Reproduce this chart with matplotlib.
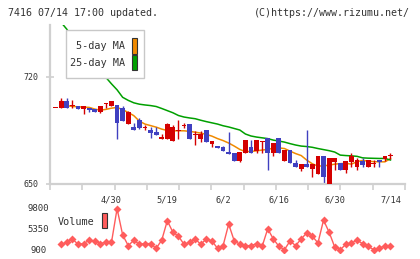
import numpy as np
import matplotlib
matplotlib.use("Agg")
import matplotlib.pyplot as plt
from matplotlib.patches import Rectangle

# daily candles (index 0 is the flat bar at the far left)
opens = [699.5, 699.5, 704.3, 701.0, 701.0, 699.3, 699.5, 699.1, 697.3, 702.6,
         701.2, 701.7, 699.9, 689.5, 687.5, 691.9, 686.6, 685.3, 684.2, 679.6,
         679.6, 678.3, 684.7, 687.8, 689.3, 681.8, 679.4, 685.3, 676.2, 674.9,
         674.4, 671.1, 670.5, 665.2, 670.5, 674.0, 671.8, 677.5, 680.1, 670.1,
         680.1, 665.2, 672.2, 664.0, 659.6, 663.1, 659.6, 656.6, 668.3, 649.3,
         664.6, 663.5, 659.2, 664.6, 660.9, 665.0, 661.3, 663.3, 665.7, 666.1,
         668.1]
closes = [699.5, 704.3, 699.5, 701.3, 699.3, 701.0, 698.4, 697.3, 701.0, 702.8,
          704.3, 689.7, 691.4, 697.3, 685.5, 686.8, 687.0, 683.6, 682.3, 680.8,
          689.5, 687.3, 685.1, 688.2, 679.4, 682.2, 682.7, 677.7, 678.1, 673.4,
          671.8, 669.6, 665.2, 670.9, 678.8, 670.5, 678.8, 677.8, 670.1, 676.6,
          670.1, 672.2, 663.5, 661.3, 663.1, 661.3, 663.1, 668.3, 654.8, 666.8,
          666.8, 659.2, 665.0, 668.3, 665.7, 662.4, 665.7, 663.7, 664.6, 668.3,
          668.5]
highs = [699.5, 706.3, 706.3, 705.0, 701.0, 701.0, 699.5, 699.1, 701.0, 702.8,
         704.3, 702.0, 701.0, 697.8, 689.7, 693.0, 688.6, 687.5, 687.5, 682.5,
         690.1, 688.6, 691.9, 690.1, 689.3, 684.9, 684.9, 685.3, 678.1, 674.9,
         674.9, 684.2, 670.5, 670.9, 678.8, 678.8, 678.8, 677.8, 680.1, 676.6,
         680.1, 672.2, 672.2, 665.7, 663.1, 685.3, 663.1, 668.3, 668.3, 666.8,
         666.8, 663.5, 665.0, 670.1, 666.8, 666.8, 665.7, 665.7, 665.7, 668.3,
         670.5]
lows = [699.5, 699.5, 699.5, 699.5, 698.9, 695.6, 696.9, 697.3, 696.6, 699.5,
        701.2, 679.4, 691.4, 689.5, 685.5, 685.8, 685.3, 680.3, 682.0, 679.6,
        679.6, 678.3, 679.4, 686.4, 679.4, 675.5, 677.3, 677.7, 674.2, 673.4,
        671.8, 669.6, 665.2, 664.6, 670.5, 670.1, 670.1, 670.5, 659.2, 668.3,
        670.1, 665.2, 663.5, 660.9, 658.7, 661.3, 654.8, 656.6, 649.3, 649.3,
        659.2, 659.2, 657.4, 661.3, 659.2, 661.3, 661.3, 660.9, 661.3, 665.0,
        666.1]

nan = np.nan
ma5 = [nan, 704.2, 701.3, 700.7, 700.5, 700.3, 700.1, 699.0, 698.3, 698.8,
       699.6, 700.1, 698.6, 696.8, 694.7, 691.1, 689.2, 688.2, 687.2, 685.9,
       685.0, 684.8, 684.8, 684.8, 684.4, 683.9, 683.3, 682.4, 681.3, 679.7,
       678.4, 676.8, 674.8, 672.6, 671.2, 671.3, 671.7, 672.2, 672.6, 673.5,
       673.6, 673.2, 671.5, 669.9, 668.6, 665.6, 663.2, 661.7, 661.9, 662.3,
       663.0, 663.3, 663.5, 663.0, 664.6, 665.4, 665.0, 664.6, 664.5, 664.5,
       666.6]
ma25 = [nan, 755.6, 751.2, 745.8, 740.4, 735.1, 729.7, 724.4, 721.0, 719.7,
        715.5, 711.6, 706.7, 704.7, 703.1, 702.2, 701.7, 701.3, 700.7, 699.4,
        698.0, 696.6, 694.8, 693.8, 693.2, 692.7, 691.7, 690.8, 690.0, 689.2,
        688.1, 687.3, 686.3, 685.3, 682.7, 681.4, 680.7, 680.2, 679.7, 678.7,
        678.1, 677.4, 676.4, 675.5, 674.8, 674.5, 674.0, 673.2, 672.5, 671.8,
        670.9, 668.9, 668.6, 668.4, 668.1, 667.1, 666.9, 666.8, 666.7, 666.7,
        665.7]

# volume (no value for the first flat bar)
volume = [nan, 1900, 2360, 3090, 1920, 2070, 2800, 2650, 2070, 2360,
          2360, 9650, 3960, 1630, 2800, 1920, 2070, 2070, 1050, 2800,
          7030, 4550, 3670, 1920, 2360, 3090, 1920, 3090, 2650, 1050,
          1630, 6300, 2650, 1920, 1630, 1630, 2070, 1480, 5280, 3090,
          1480, 750, 2650, 1630, 3090, 4400, 3670, 2210, 7170, 4550,
          1340, 750, 1920, 2210, 2800, 2070, 1480, 750, 1050, 1630,
          1630]

tick_idx = [10, 20, 30, 40, 50, 60]
tick_labels = ['4/30', '5/19', '6/2', '6/16', '6/30', '7/14']

RED = '#d40000'
BLUE = '#4040c0'
ORANGE = '#f08a00'
GREEN = '#00a000'
VOLC = '#ff5c5c'
GRAY = '#d0d0d0'
MONO = 'DejaVu Sans Mono'

W, H = 420, 259
fig = plt.figure(figsize=(W / 100, H / 100), dpi=100)


def fx(px):
    return px / W


def fy(py):
    return 1 - py / H


x = np.arange(len(opens))
xl = (-1.02, 62.6)

ax = fig.add_axes([fx(50), fy(184), fx(405) - fx(50), fy(25) - fy(184)])
ax.set_xlim(*xl)
ax.set_ylim(650, 754)

o = np.array(opens)
c = np.array(closes)
up = c >= o
cols = np.where(up, RED, BLUE)
ax.vlines(x, lows, highs, colors=cols, lw=1.0, zorder=2)
bottoms = np.minimum(o, c)
heights = np.maximum(np.abs(c - o), 0.7)
ax.bar(x, heights, bottom=bottoms, width=0.86, color=cols, lw=0, zorder=3)

# moving averages sit under the candles
ax.plot(x, ma5, color=ORANGE, lw=1.1, zorder=1.5)
ax.plot(x, ma25, color=GREEN, lw=1.1, zorder=1.5)

for s in ['top', 'right']:
    ax.spines[s].set_visible(False)
for s in ['left', 'bottom']:
    ax.spines[s].set_color(GRAY)
    ax.spines[s].set_linewidth(1.6)

ax.set_yticks([650, 720])
ax.set_yticklabels(['650', '720'], family=MONO, fontsize=6.0, color='#333333')
ax.tick_params(axis='y', direction='inout', length=6, width=1.2, color=GRAY, pad=5)

ax.set_xticks(tick_idx)
ax.set_xticklabels(tick_labels, family=MONO, fontsize=6.2, color='#333333')
ax.tick_params(axis='x', which='major', length=0, pad=8)
ax.set_xticks(np.linspace(xl[0], xl[1], 12), minor=True)
ax.tick_params(axis='x', which='minor', direction='out', length=4, width=1.2, color=GRAY)

# legend for moving averages
fig.add_artist(Rectangle((fx(65.5), fy(77.5)), fx(143.5) - fx(65.5), fy(30) - fy(77.5),
                         transform=fig.transFigure, facecolor='white',
                         edgecolor='#c8c8c8', lw=1.0, zorder=10))
fig.text(fx(125), fy(46), '5-day MA', ha='right', va='center', family=MONO,
         fontsize=7.3, color='#333333', zorder=11)
fig.text(fx(125), fy(63), '25-day MA', ha='right', va='center', family=MONO,
         fontsize=7.3, color='#333333', zorder=11)
fig.add_artist(Rectangle((fx(131.7), fy(53.5)), fx(137.3) - fx(131.7), fy(38) - fy(53.5),
                         transform=fig.transFigure, facecolor=ORANGE,
                         edgecolor='#333333', lw=0.8, zorder=11))
fig.add_artist(Rectangle((fx(131.7), fy(69.5)), fx(137.3) - fx(131.7), fy(55) - fy(69.5),
                         transform=fig.transFigure, facecolor=GREEN,
                         edgecolor='#333333', lw=0.8, zorder=11))

# volume panel
av = fig.add_axes([fx(50), fy(253), fx(405) - fx(50), fy(205) - fy(253)])
av.set_xlim(*xl)
av.set_ylim(32, 10451)
av.plot(x, volume, color=VOLC, lw=1.0, marker='D', ms=4.4, mec='none', mfc=VOLC)
for s in av.spines.values():
    s.set_visible(False)
av.set_xticks([])
av.set_yticks([900, 5350, 9800])
av.set_yticklabels(['900', '5350', '9800'], family=MONO, fontsize=6.5, color='#333333',
                   ha='center')
av.tick_params(axis='y', length=0, pad=8.5)

fig.text(fx(58), fy(222), 'Volume', ha='left', va='center', family=MONO,
         fontsize=7.3, color='#333333')
fig.add_artist(Rectangle((fx(101.7), fy(228)), fx(107.3) - fx(101.7), fy(213) - fy(228),
                         transform=fig.transFigure, facecolor=VOLC,
                         edgecolor='#333333', lw=0.8))

fig.text(fx(8), fy(12.5), '7416 07/14 17:00 updated.', ha='left', va='center',
         family=MONO, fontsize=7.2, color='#333333')
fig.text(fx(410), fy(12.5), '(C)https://www.rizumu.net/', ha='right', va='center',
         family=MONO, fontsize=7.2, color='#333333')

fig.savefig('out.png', dpi=100)
